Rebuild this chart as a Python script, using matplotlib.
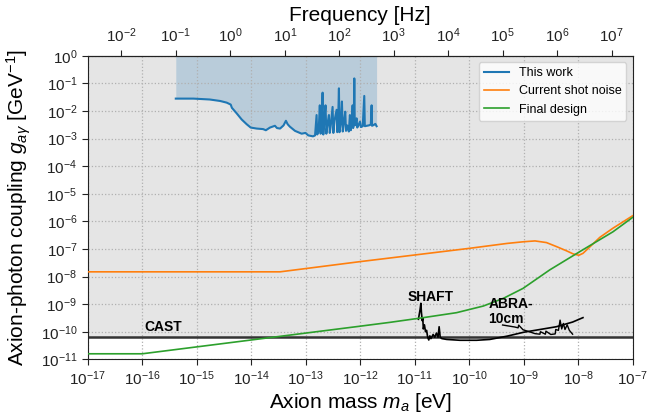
import numpy as np
import matplotlib
matplotlib.use('Agg')
import matplotlib.pyplot as plt
from matplotlib.ticker import LogLocator, NullLocator

plt.rcParams['font.family'] = ['Liberation Sans', 'DejaVu Sans']
plt.rcParams['mathtext.fontset'] = 'custom'
plt.rcParams['mathtext.rm'] = 'Liberation Sans'
plt.rcParams['mathtext.it'] = 'Liberation Sans:italic'
plt.rcParams['mathtext.bf'] = 'Liberation Sans:bold'

h_eVs = 4.135667e-15  # Planck constant, eV s

#%% data

# "This work" : frequency [Hz] and coupling [GeV^-1]
work_f = [0.1, 0.21, 0.42, 0.65, 0.86, 1.02, 1.07, 1.31, 1.62, 2.0, 2.37, 3.05, 4.0, 4.5,
          5.35, 6.6, 7.2, 8.2, 9.5, 10.5, 11.3, 12.4, 15.4, 20.4, 24, 27, 33, 36, 38.4,
          39.5, 42, 44, 45.5, 47, 49.5, 51, 53, 56, 58, 61, 64.7, 67, 70, 75.5, 78, 82,
          89.5, 92, 95, 98.7, 101, 106, 112, 116, 122, 129, 133, 140, 150, 157, 163,
          170, 176, 180, 185, 189, 193, 200, 208, 214, 225, 240, 250, 270, 288, 295,
          320, 350, 380, 393, 400, 430, 460, 485]
work_g = [0.028, 0.028, 0.026, 0.023, 0.020, 0.017, 0.013, 0.0082, 0.0049, 0.0033, 0.0025,
          0.0023, 0.0022, 0.0020, 0.0025, 0.0029, 0.0024, 0.0023, 0.0030, 0.0044, 0.0033,
          0.0027, 0.0019, 0.0015, 0.0016, 0.0013, 0.0012, 0.0013, 0.0071, 0.0014, 0.0020,
          0.016, 0.0015, 0.0030, 0.046, 0.0014, 0.0040, 0.016, 0.0015, 0.0035, 0.0071,
          0.0016, 0.0030, 0.014, 0.0016, 0.0045, 0.011, 0.0017, 0.0030, 0.066, 0.0017,
          0.0035, 0.022, 0.0018, 0.0040, 0.0094, 0.0019, 0.0030, 0.0018, 0.0071, 0.0020,
          0.0035, 0.016, 0.0024, 0.0045, 0.151, 0.0030, 0.0035, 0.0054, 0.0025, 0.0030,
          0.0041, 0.0026, 0.0028, 0.035, 0.0028, 0.0029, 0.0030, 0.0032, 0.016, 0.0029,
          0.0031, 0.0034, 0.0028]

# log10 of mass [eV] and coupling [GeV^-1]
shot_logm = [-17, -13.47, -12, -11, -10, -9.3, -9.0, -8.79, -8.58, -8.39, -8.21, -8.09,
             -7.985, -7.91, -7.78, -7.60, -7.36, -7.0]
shot_logg = [-7.83, -7.83, -7.46, -7.22, -6.98, -6.80, -6.74, -6.71, -6.77, -6.92, -7.07,
             -7.18, -7.23, -7.16, -6.92, -6.58, -6.25, -5.80]

final_logm = [-17, -16, -15, -14, -13, -12, -11.45, -10.84, -10.23, -9.74, -9.37, -9.01,
              -8.52, -7.97, -7.36, -7.0]
final_logg = [-10.80, -10.80, -10.55, -10.30, -10.05, -9.80, -9.66, -9.49, -9.31, -9.07,
              -8.79, -8.43, -7.76, -7.10, -6.38, -5.86]

cast_g = 6.6e-11

shaft_logm = [-10.93, -10.90, -10.885, -10.875, -10.86, -10.85, -10.84, -10.82, -10.80,
              -10.78, -10.76, -10.74, -10.72, -10.70, -10.66, -10.63, -10.60, -10.57,
              -10.55, -10.53, -10.50, -10.41, -10.17, -9.86, -9.62, -9.3, -9.0, -8.7,
              -8.4, -8.1, -7.91]
shaft_logg = [-9.55, -9.2, -8.97, -9.3, -9.6, -9.5, -9.9, -9.75, -10.0, -9.95, -10.2, -10.3,
              -10.15, -10.25, -10.1, -10.2, -10.05, -10.2, -9.82, -10.2, -10.25, -10.28,
              -10.31, -10.31, -10.28, -10.16, -10.02, -9.92, -9.82, -9.65, -9.49]

abra_logm = [-9.385, -9.16, -9.10, -9.09, -9.01, -8.88, -8.79, -8.70, -8.69, -8.60, -8.59,
             -8.50, -8.42, -8.41, -8.36, -8.33, -8.30, -8.27, -8.24, -8.20, -8.16, -8.10]
abra_logg = [-9.757, -9.83, -9.86, -9.76, -9.93, -10.01, -10.07, -10.09, -10.00, -10.09,
             -9.98, -10.10, -10.08, -9.92, -9.95, -9.58, -9.90, -9.70, -9.92, -9.75, -9.95,
             -10.09]

#%% plot

fig = plt.figure(figsize=(6.62, 4.13), dpi=100)
ax = fig.add_axes([0.1325, 0.130, 0.823, 0.735])

ax.set_xscale('log')
ax.set_yscale('log')
ax.set_xlim(1e-17, 1e-7)
ax.set_ylim(1e-11, 1)

# region excluded by CAST
ax.fill_between([1e-17, 1e-7], cast_g, 1, color='#e5e5e5', zorder=0, lw=0)

work_m = np.array(work_f) * h_eVs
ax.fill_between(work_m, work_g, 1, color='#1f77b4', alpha=0.22, lw=0, zorder=0.3)
ax.plot(work_m, work_g, color='#1f77b4', lw=1.5, label='This work', zorder=3)
ax.plot(10**np.array(shot_logm), 10**np.array(shot_logg), color='#ff7f0e', lw=1.2,
        label='Current shot noise', zorder=3)
ax.plot(10**np.array(final_logm), 10**np.array(final_logg), color='#2ca02c', lw=1.2,
        label='Final design', zorder=3)

ax.axhline(cast_g, color='#333333', lw=1.8, zorder=2.5)
ax.plot(10**np.array(shaft_logm), 10**np.array(shaft_logg), color='black', lw=1.2, zorder=2.6)
ax.plot(10**np.array(abra_logm), 10**np.array(abra_logg), color='black', lw=1.0, zorder=2.6)

ax.text(1.1e-16, 8.6e-11, 'CAST', fontsize=10, fontweight='bold', va='bottom')
ax.text(7.3e-12, 1.05e-9, 'SHAFT', fontsize=10, fontweight='bold', va='bottom')
ax.text(2.25e-10, 1.65e-10, 'ABRA-\n10cm', fontsize=10, fontweight='bold', va='bottom',
        linespacing=1.1)

ax.xaxis.set_major_locator(LogLocator(base=10, numticks=20))
ax.yaxis.set_major_locator(LogLocator(base=10, numticks=20))
ax.xaxis.set_minor_locator(NullLocator())
ax.yaxis.set_minor_locator(NullLocator())
ax.tick_params(direction='out', length=4, labelsize=11, colors='#222222')
ax.grid(True, which='major', ls=':', color='#b0b0b0', lw=0.9)
ax.set_axisbelow(True)
for s in ax.spines.values():
    s.set_color('#222222')

ax.set_xlabel('Axion mass $m_a$ [eV]', fontsize=15)
ax.set_ylabel(r'Axion-photon coupling $g_{a\gamma}$ [GeV$^{-1}$]', fontsize=15)
ax.xaxis.set_label_coords(0.5, -0.105)
ax.yaxis.set_label_coords(-0.10, 0.5)

top = ax.secondary_xaxis('top', functions=(lambda m: m / h_eVs, lambda f: f * h_eVs))
top.xaxis.set_major_locator(LogLocator(base=10, numticks=20))
top.xaxis.set_minor_locator(NullLocator())
top.tick_params(direction='out', length=4, labelsize=11, colors='#222222')
top.set_xlabel('Frequency [Hz]', fontsize=15, labelpad=4)

leg = ax.legend(loc='upper right', fontsize=9, framealpha=0.8, edgecolor='#cccccc')

fig.savefig('out.png', dpi=100)
